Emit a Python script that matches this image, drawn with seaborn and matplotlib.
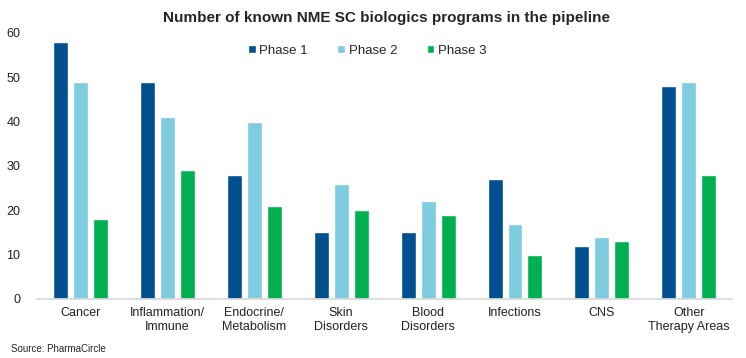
import matplotlib
matplotlib.use("Agg")
import matplotlib.pyplot as plt
import seaborn as sns
import pandas as pd

categories = ["Cancer", "Inflammation/\nImmune", "Endocrine/\nMetabolism", "Skin\nDisorders",
              "Blood\nDisorders", "Infections", "CNS", "Other\nTherapy Areas"]
phase1 = [58, 49, 28, 15, 15, 27, 12, 48]
phase2 = [49, 41, 40, 26, 22, 17, 14, 49]
phase3 = [18, 29, 21, 20, 19, 10, 13, 28]
series = ["Phase 1", "Phase 2", "Phase 3"]
colors = ["#00508F", "#7ECCE0", "#00B050"]

rows = []
for s, vals in zip(series, [phase1, phase2, phase3]):
    for c, v in zip(categories, vals):
        rows.append({"Category": c, "Series": s, "Value": v})
df = pd.DataFrame(rows)

sns.set_theme(style="white")
plt.rcParams['font.family'] = ['Liberation Sans', 'DejaVu Sans']

fig = plt.figure(figsize=(7.46, 3.58), dpi=100)
ax = fig.add_axes([0.0496, 0.165, 0.932, 0.743])
sns.barplot(data=df, x="Category", y="Value", hue="Series", palette=colors,
            width=0.69, gap=0.25, order=categories, hue_order=series, ax=ax,
            saturation=1, errorbar=None)

ax.set_ylim(0, 60)
ax.set_xlim(-0.5, 7.5)
ax.set_yticks(range(0, 61, 10))
ax.set_xlabel("")
ax.set_ylabel("")
for sp in ["top", "right", "left"]:
    ax.spines[sp].set_visible(False)
ax.spines["bottom"].set_color("#D9D9D9")
ax.tick_params(axis="both", length=0, labelsize=9, colors="#222222")
ax.tick_params(axis="x", pad=6)
ax.tick_params(axis="y", pad=12)

leg = ax.legend(loc="upper center", bbox_to_anchor=(0.475, 1.0), ncol=3, frameon=False,
                fontsize=9.5, handlelength=0.6, handleheight=0.6, handletextpad=0.3,
                columnspacing=2.2)

fig.text(0.518, 0.95, "Number of known NME SC biologics programs in the pipeline",
         ha="center", va="center", fontsize=11, fontweight="bold")
fig.text(0.015, 0.025, "Source: PharmaCircle", ha="left", va="center", fontsize=7)

fig.savefig("out.png", dpi=100)
